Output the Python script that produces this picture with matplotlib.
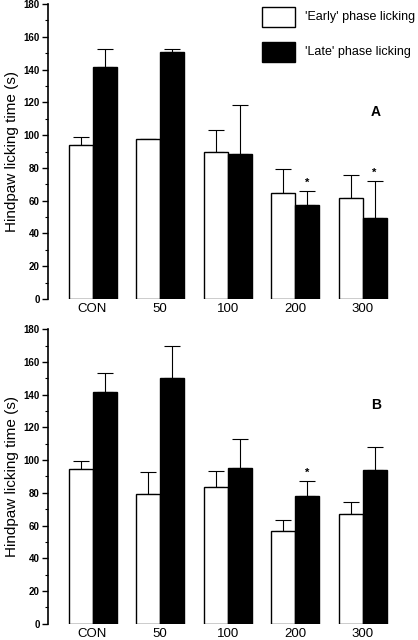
import numpy as np
import matplotlib.pyplot as plt
from matplotlib.ticker import MultipleLocator
from matplotlib.patches import Rectangle

# ------------------------- Data -------------------------
doses = ["CON", "50", "100", "200", "300"]

early_A     = [94.2, 97.8, 89.5, 64.5, 61.6]
early_A_err = [4.6, 0.0, 13.4, 14.6, 13.9]
late_A      = [141.8, 150.5, 88.7, 57.6, 49.6]
late_A_err  = [10.5, 2.2, 29.9, 8.5, 22.6]
star_A      = [False, False, False, True, True]

early_B     = [94.8, 79.3, 83.6, 56.9, 66.9]
early_B_err = [4.5, 13.6, 9.8, 6.5, 7.7]
late_B      = [141.9, 150.0, 95.0, 77.9, 94.0]
late_B_err  = [11.2, 19.8, 17.7, 9.5, 14.2]
star_B      = [False, False, False, True, False]

plt.rcParams['font.family'] = ['Liberation Sans', 'DejaVu Sans']

W = 0.355
x = np.arange(len(doses))


def panel(ax, early, early_err, late, late_err, stars, tag, tag_y):
    ax.bar(x - W / 2, early, W, color='white', edgecolor='black', linewidth=1.0, zorder=2)
    ax.bar(x + W / 2, late, W, color='black', edgecolor='black', linewidth=1.0, zorder=2)
    ax.errorbar(x - W / 2, early, yerr=[np.zeros(len(x)), early_err], fmt='none',
                ecolor='black', elinewidth=0.8, capsize=5.5, capthick=0.8, zorder=1)
    ax.errorbar(x + W / 2, late, yerr=[np.zeros(len(x)), late_err], fmt='none',
                ecolor='black', elinewidth=0.8, capsize=5.5, capthick=0.8, zorder=1)
    for i, s in enumerate(stars):
        if s:
            ax.text(x[i] + W / 2, late[i] + late_err[i] + 1.5, '*', ha='center',
                    va='bottom', fontsize=8, fontweight='bold')
    ax.set_xlim(-0.66, 4.82)
    ax.set_ylim(0, 180)
    ax.yaxis.set_major_locator(MultipleLocator(20))
    ax.yaxis.set_minor_locator(MultipleLocator(10))
    ax.tick_params(axis='y', which='major', length=4, width=1.0, labelsize=7, pad=2)
    ax.tick_params(axis='y', which='minor', length=2, width=0.8)
    for lab in ax.get_yticklabels():
        lab.set_fontweight('bold')
    ax.set_xticks(x)
    ax.set_xticklabels(doses, fontsize=9.5)
    ax.tick_params(axis='x', length=0, pad=3)
    for sp in ['top', 'right', 'bottom']:
        ax.spines[sp].set_visible(False)
    ax.spines['left'].set_linewidth(1.2)
    ax.set_ylabel('Hindpaw licking time (s)', fontsize=11, labelpad=3)
    ax.text(4.2, tag_y, tag, fontsize=10, fontweight='bold', ha='center', va='center')


fig = plt.figure(figsize=(4.18, 6.4), dpi=100)
axA = fig.add_axes([0.1148, 0.5328, 0.8852, 0.4609])
axB = fig.add_axes([0.1148, 0.0255, 0.8852, 0.4600])

panel(axA, early_A, early_A_err, late_A, late_A_err, star_A, 'A', 114)
panel(axB, early_B, early_B_err, late_B, late_B_err, star_B, 'B', 134)

# legend drawn in figure pixel space
for yb, fc, txt in [(613, 'white', "'Early' phase licking"), (578, 'black', "'Late' phase licking")]:
    fig.patches.append(Rectangle((262 / 418, yb / 640), 33 / 418, 20 / 640,
                                 transform=fig.transFigure, facecolor=fc,
                                 edgecolor='black', linewidth=1.0))
    fig.text(305 / 418, (yb + 10) / 640, txt, fontsize=9, ha='left', va='center')

fig.savefig('out.png', dpi=100)
